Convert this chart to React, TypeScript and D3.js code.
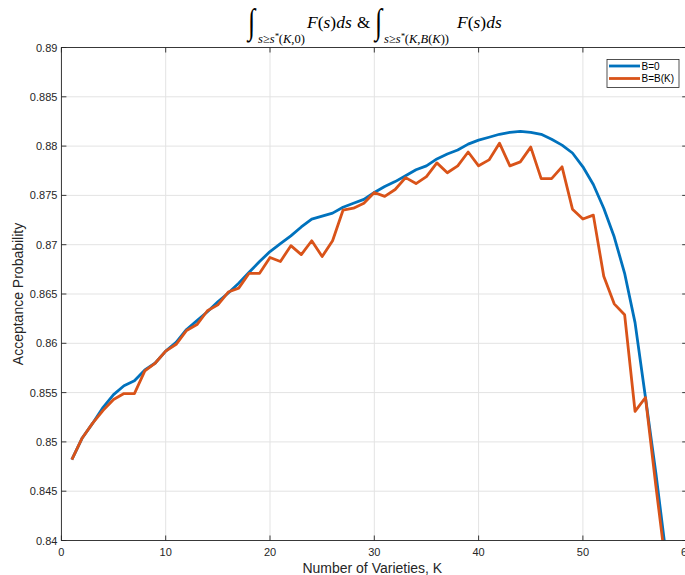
import React from "react";
import * as d3 from "d3";

const varieties = [1,2,3,4,5,6,7,8,9,10,11,12,13,14,15,16,17,18,19,20,21,22,23,24,25,26,27,28,29,30,31,32,33,34,35,36,37,38,39,40,41,42,43,44,45,46,47,48,49,50,51,52,53,54,55,56,57,58];

const seriesB0 = [
  0.8482, 0.8504, 0.8519, 0.8535, 0.8548, 0.8557, 0.8562, 0.8573, 0.8580, 0.8592,
  0.8601, 0.8614, 0.8623, 0.8632, 0.8642, 0.8651, 0.8661, 0.8672, 0.8683, 0.8693,
  0.8701, 0.8709, 0.8718, 0.8726, 0.8729, 0.8732, 0.8738, 0.8742, 0.8746, 0.8753,
  0.8759, 0.8764, 0.8770, 0.8776, 0.8780, 0.8787, 0.8792, 0.8796, 0.8802, 0.8806,
  0.8809, 0.8812, 0.8814, 0.8815, 0.8814, 0.8812, 0.8807, 0.8801, 0.8793, 0.8779,
  0.8761, 0.8737, 0.8708, 0.8671, 0.8621, 0.8545, 0.8468, 0.8383,
];

const seriesBK = [
  0.8482, 0.8504, 0.8519, 0.8532, 0.8543, 0.8549, 0.8549, 0.8572, 0.8580, 0.8592,
  0.8599, 0.8613, 0.8619, 0.8633, 0.8639, 0.8652, 0.8656, 0.8671, 0.8671, 0.8687,
  0.8683, 0.8699, 0.8690, 0.8704, 0.8688, 0.8704, 0.8735, 0.8737, 0.8742, 0.8753,
  0.8749, 0.8756, 0.8768, 0.8762, 0.8769, 0.8783, 0.8773, 0.8780, 0.8794, 0.8780,
  0.8786, 0.8803, 0.8780, 0.8784, 0.8799, 0.8767, 0.8767, 0.8779, 0.8736, 0.8726,
  0.8730, 0.8668, 0.8640, 0.8629, 0.8531, 0.8545, 0.8455, 0.8370,
];

const seriesNames = ["B=0", "B=B(K)"];
const seriesColors = ["#0072BD", "#D95319"];

const xTicks = [0, 10, 20, 30, 40, 50, 60];
const xTickLabels = ["0", "10", "20", "30", "40", "50", "60"];
const yTicks = [0.84, 0.845, 0.85, 0.855, 0.86, 0.865, 0.87, 0.875, 0.88, 0.885, 0.89];
const yTickLabels = ["0.84", "0.845", "0.85", "0.855", "0.86", "0.865", "0.87", "0.875", "0.88", "0.885", "0.89"];

const xLabel = "Number of Varieties, K";
const yLabel = "Acceptance Probability";

const W = 685;
const H = 575;
const L = 61.4;
const R = 687.2;
const T = 47.5;
const B = 540.5;

const sans = "'Liberation Sans', Arial, Helvetica, sans-serif";
const serif = "'Liberation Serif', 'Times New Roman', serif";

export default function App() {
  const x = d3.scaleLinear().domain([0, 60]).range([L, R]);
  const y = d3.scaleLinear().domain([0.84, 0.89]).range([B, T]);
  const line = d3
    .line<number>()
    .x((_, i) => x(varieties[i]))
    .y((d) => y(d));
  const series = [seriesB0, seriesBK];
  const axisColor = "#262626";
  const gridColor = "#e3e3e3";
  const tick = 5;

  return (
    <svg
      width={W}
      height={H}
      style={{ position: "absolute", left: 0, top: 0, background: "#fff" }}
    >
      <defs>
        <clipPath id="plotClip">
          <rect x={L} y={T} width={R - L} height={B - T} />
        </clipPath>
      </defs>
      <rect x={0} y={0} width={W} height={H} fill="#fff" />
      {/* grid */}
      {xTicks.map((t) => (
        <line key={"gx" + t} x1={x(t)} x2={x(t)} y1={T} y2={B} stroke={gridColor} strokeWidth={1} />
      ))}
      {yTicks.map((t) => (
        <line key={"gy" + t} x1={L} x2={R} y1={y(t)} y2={y(t)} stroke={gridColor} strokeWidth={1} />
      ))}
      {/* lines */}
      <g clipPath="url(#plotClip)">
        {series.map((s, i) => (
          <path
            key={"s" + i}
            d={line(s) || ""}
            fill="none"
            stroke={seriesColors[i]}
            strokeWidth={2.8}
            strokeLinejoin="round"
          />
        ))}
      </g>
      {/* axes box */}
      <rect x={L} y={T} width={R - L} height={B - T} fill="none" stroke={axisColor} strokeWidth={0.9} />
      {xTicks.map((t) => (
        <g key={"xt" + t}>
          <line x1={x(t)} x2={x(t)} y1={B} y2={B - tick} stroke={axisColor} strokeWidth={0.9} />
          <line x1={x(t)} x2={x(t)} y1={T} y2={T + tick} stroke={axisColor} strokeWidth={0.9} />
        </g>
      ))}
      {yTicks.map((t) => (
        <g key={"yt" + t}>
          <line x1={L} x2={L + tick} y1={y(t)} y2={y(t)} stroke={axisColor} strokeWidth={0.9} />
          <line x1={R} x2={R - tick} y1={y(t)} y2={y(t)} stroke={axisColor} strokeWidth={0.9} />
        </g>
      ))}
      {/* tick labels */}
      {xTicks.map((t, i) => (
        <text
          key={"xl" + t}
          x={x(t)}
          y={B + 15}
          textAnchor="middle"
          fontFamily={sans}
          fontSize={11}
          fill={axisColor}
        >
          {xTickLabels[i]}
        </text>
      ))}
      {yTicks.map((t, i) => (
        <text
          key={"yl" + t}
          x={L - 4}
          y={y(t) + 4}
          textAnchor="end"
          fontFamily={sans}
          fontSize={11}
          fill={axisColor}
        >
          {yTickLabels[i]}
        </text>
      ))}
      {/* axis labels */}
      <text x={(L + R) / 2 - 2} y={572.5} textAnchor="middle" fontFamily={sans} fontSize={14} fill={axisColor}>
        {xLabel}
      </text>
      <text
        transform={`translate(23, ${(T + B) / 2}) rotate(-90)`}
        textAnchor="middle"
        fontFamily={sans}
        fontSize={14}
        fill={axisColor}
      >
        {yLabel}
      </text>
      {/* legend */}
      <g>
        <rect x={607} y={59.5} width={72} height={28} fill="#fff" stroke={axisColor} strokeWidth={0.8} />
        {seriesNames.map((n, i) => (
          <g key={"lg" + i}>
            <line
              x1={609}
              x2={640}
              y1={66 + i * 12.5}
              y2={66 + i * 12.5}
              stroke={seriesColors[i]}
              strokeWidth={2.8}
            />
            <text x={641.5} y={69.5 + i * 12.5} fontFamily={sans} fontSize={10} fill="#000">
              {n}
            </text>
          </g>
        ))}
      </g>
      {/* title */}
      <g fontFamily={serif} fill="#000">
        <text transform="translate(248,33) scale(1,1.35)" fontSize={26}>∫</text>
        <text x={258} y={43} fontSize={12.5} fontStyle="italic">
          s≥s
          <tspan fontSize={8.5} dy={-4.5}>*</tspan>
          <tspan fontStyle="normal" dy={4.5}>(</tspan>K,<tspan fontStyle="normal">0)</tspan>
        </text>
        <text x={307} y={28} fontSize={17.5}>
          <tspan fontStyle="italic">F</tspan>(<tspan fontStyle="italic">s</tspan>)<tspan fontStyle="italic">ds</tspan>
        </text>
        <text x={357} y={28} fontSize={17}>&amp;</text>
        <text transform="translate(375,33) scale(1,1.35)" fontSize={26}>∫</text>
        <text x={384} y={43} fontSize={12.5} fontStyle="italic">
          s≥s
          <tspan fontSize={8.5} dy={-4.5}>*</tspan>
          <tspan fontStyle="normal" dy={4.5}>(</tspan>K,B<tspan fontStyle="normal">(</tspan>K
          <tspan fontStyle="normal">))</tspan>
        </text>
        <text x={457} y={28} fontSize={17.5}>
          <tspan fontStyle="italic">F</tspan>(<tspan fontStyle="italic">s</tspan>)<tspan fontStyle="italic">ds</tspan>
        </text>
      </g>
    </svg>
  );
}
